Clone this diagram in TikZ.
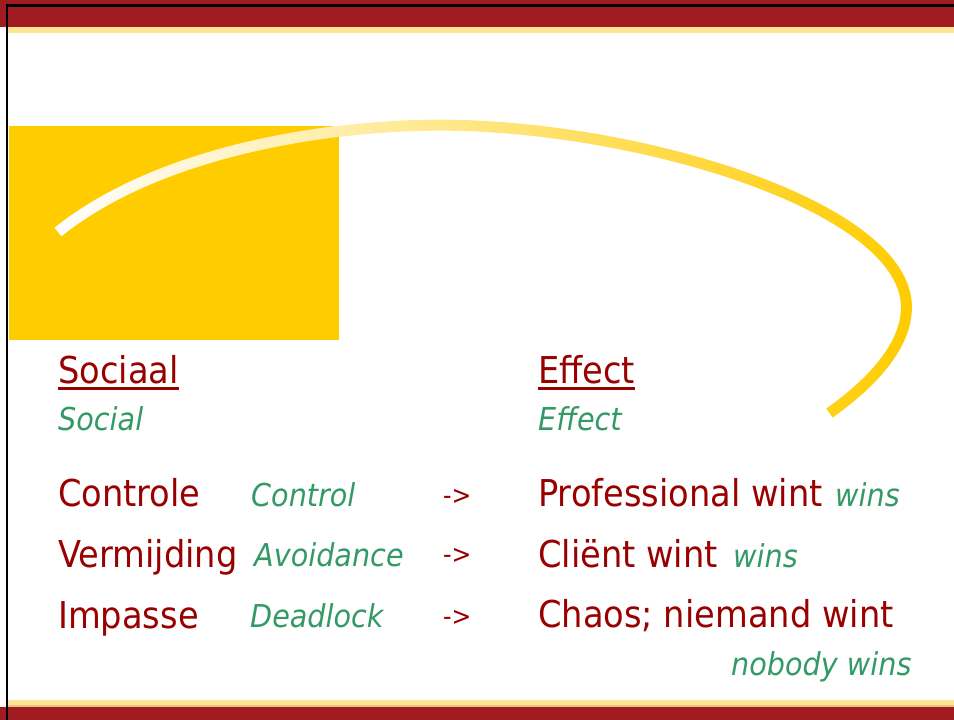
\documentclass[tikz,border=0pt]{standalone}
\usepackage{fontspec}
\setmainfont{DejaVu Sans}[FakeStretch=0.91]
\usetikzlibrary{fadings}
\definecolor{barred}{HTML}{A01C20}
\definecolor{stripe}{HTML}{FDE495}
\definecolor{stripedark}{HTML}{EBC27A}
\definecolor{gold}{HTML}{FFCC00}
\definecolor{txtred}{HTML}{990000}
\definecolor{txtgreen}{HTML}{339966}
\tikzfading[name=arcfade, left color=transparent!100, middle color=transparent!72, right color=transparent!0]
\begin{document}
\begin{tikzpicture}[x=1pt,y=-1pt,
  main/.style={anchor=base west, inner sep=0pt, text=txtred, font=\fontsize{37}{40}\selectfont},
  sub/.style={anchor=base west, inner sep=0pt, text=txtgreen, font=\fontsize{31.5}{34}\selectfont\itshape},
  arr/.style={anchor=base west, inner sep=0pt, text=txtred, font=\fontsize{26}{30}\selectfont},
  uline/.style={draw=txtred, line width=2.2pt},
  arcline/.style={line width=11pt}]
\useasboundingbox (0,0) rectangle (954,720);
\fill[white] (0,0) rectangle (954,720);
% top bars
\fill[barred] (0,0) rectangle (954,27);
\fill[black] (6,4) rectangle (954,6.5);
\fill[stripe] (8,27) rectangle (954,33);
% bottom bars
\fill[stripe] (8,700) rectangle (954,705);
\fill[stripedark] (8,705) rectangle (954,707);
\fill[barred] (0,707) rectangle (954,720);
% left black line
\fill[black] (6,4) rectangle (8.3,720);
% yellow block
\fill[gold] (9,126) rectangle (339,340);
% swoosh
\def\swoosh{(58,232) .. controls (160,150) and (330,125) .. (440,125)
  .. controls (640,125) and (907,207) .. (907,307)
  .. controls (907,350) and (865,388) .. (830,413)}
\draw[white, arcline] \swoosh;
\draw[gold, arcline, path fading=arcfade] \swoosh;
% headings
\node[main] (soc) at (58,383) {Sociaal};
\draw[uline] ([yshift=-5.5pt]soc.base west) -- ([yshift=-5.5pt]soc.base east);
\node[sub] (socen) at (58,430) {Social};
\node[main] (eff) at (538,383) {Effect};
\draw[uline] ([yshift=-5.5pt]eff.base west) -- ([yshift=-5.5pt]eff.base east);
\node[sub] (effen) at (538,430) {Effect};
% row 1
\node[main] (r1a) at (58,506) {Controle};
\node[sub] (r1b) at (251,506) {Control};
\node[arr] (r1c) at (443,504) {->};
\node[main] (r1d) at (538,506) {Professional wint};
\node[sub] (r1e) at (835,506) {wins};
% row 2
\node[main] (r2a) at (58,567) {Vermijding};
\node[sub] (r2b) at (254,566) {Avoidance};
\node[arr] (r2c) at (443,563) {->};
\node[main] (r2d) at (538,567) {Cliënt wint};
\node[sub] (r2e) at (733,567) {wins};
% row 3
\node[main] (r3a) at (58,628) {Impasse};
\node[sub] (r3b) at (250,627) {Deadlock};
\node[arr] (r3c) at (443,625) {->};
\node[main] (r3d) at (538,627) {Chaos; niemand wint};
\node[sub] (r3e) at (731,675) {nobody wins};
\end{tikzpicture}
\end{document}
